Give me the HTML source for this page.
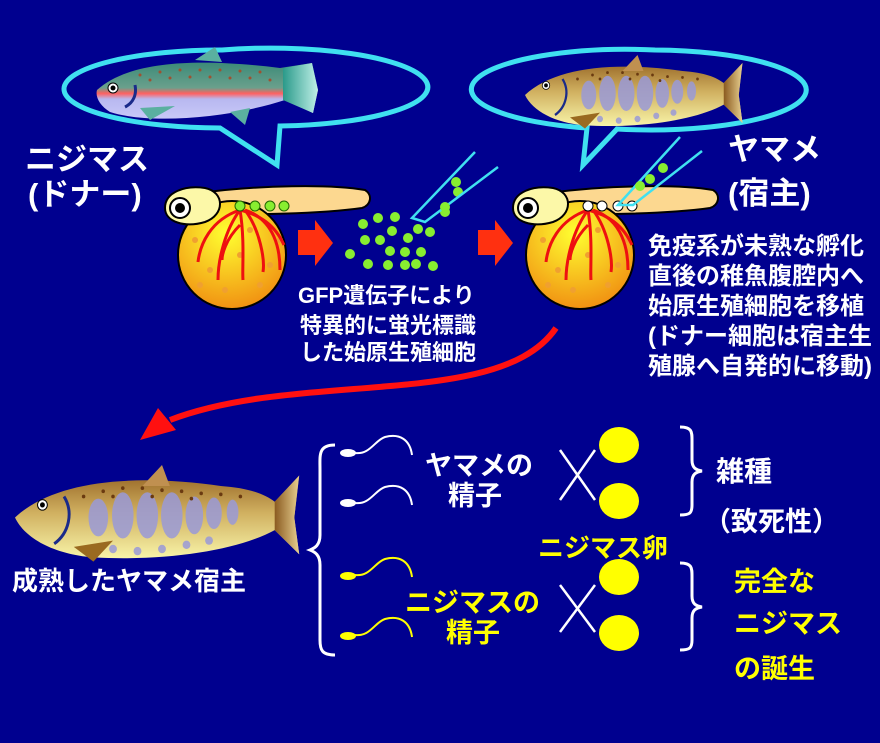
<!DOCTYPE html>
<html><head><meta charset="utf-8"><style>
html,body{margin:0;padding:0;background:#00008f;}
svg{display:block}
text{font-family:"Liberation Sans","Noto Sans CJK JP",sans-serif;font-weight:bold;}
</style></head><body>
<svg width="880" height="743" viewBox="0 0 880 743" xmlns="http://www.w3.org/2000/svg">
<defs>
<radialGradient id="yolk" cx="0.45" cy="0.3" r="0.75"><stop offset="0" stop-color="#ffff30"/><stop offset="1" stop-color="#f08a10"/></radialGradient>
<linearGradient id="rt" x1="0" y1="0" x2="0" y2="1"><stop offset="0" stop-color="#3c8a78"/><stop offset="0.45" stop-color="#6aa08c"/><stop offset="0.55" stop-color="#ff6060"/><stop offset="0.65" stop-color="#b8b8f0"/><stop offset="1" stop-color="#c8c8f8"/></linearGradient>
<linearGradient id="ym" x1="0" y1="0" x2="0" y2="1"><stop offset="0" stop-color="#9a6a28"/><stop offset="0.45" stop-color="#d0b060"/><stop offset="1" stop-color="#f8f4a8"/></linearGradient>
<linearGradient id="tail" x1="0" y1="0" x2="1" y2="0"><stop offset="0" stop-color="#2a9a8a"/><stop offset="1" stop-color="#c0f0e8"/></linearGradient>
<linearGradient id="tailb" x1="0" y1="0" x2="1" y2="0"><stop offset="0" stop-color="#8a5a20"/><stop offset="1" stop-color="#e8d090"/></linearGradient>
<g id="larva">
 <path d="M200,193 C260,185 330,184 365,190 C373,195 371,205 362,208 C320,214 250,215 200,214 Z" fill="#fcd890" stroke="#000" stroke-width="2"/>
 <circle cx="232" cy="255" r="54" fill="url(#yolk)" stroke="#000" stroke-width="2"/>
 <g fill="#f0a030"><circle cx="195" cy="240" r="3"/><circle cx="210" cy="270" r="3"/><circle cx="250" cy="230" r="3"/><circle cx="270" cy="265" r="3"/><circle cx="225" cy="290" r="3"/><circle cx="260" cy="285" r="3"/><circle cx="200" cy="285" r="3"/><circle cx="240" cy="255" r="3"/><circle cx="280" cy="240" r="3"/></g>
 <g stroke="#ee1010" stroke-width="3" fill="none"><path d="M240,210 C210,220 200,245 198,262"/><path d="M240,210 C225,230 218,260 218,280"/><path d="M240,210 C245,240 242,270 243,280"/><path d="M245,210 C260,230 265,260 263,272"/><path d="M245,210 C275,220 280,250 280,270"/><path d="M240,210 C260,215 275,225 284,245"/><path d="M240,225 C225,240 222,255 222,260"/></g>
 <ellipse cx="200" cy="212" rx="10" ry="6" fill="#ee1010"/>
 <path d="M165,208 C165,192 185,185 205,188 C225,192 225,215 205,222 C185,228 165,222 165,208 Z" fill="#fcf8a8" stroke="#000" stroke-width="2"/>
 <circle cx="180" cy="208" r="10" fill="#fff" stroke="#000" stroke-width="2"/><circle cx="180" cy="208" r="5" fill="#000"/>
</g>
<g id="fishY">
 <path d="M0,50 C40,15 120,8 210,20 C240,22 255,28 265,35 L290,10 L285,50 L290,85 L265,62 C230,80 160,92 80,88 C40,85 10,70 0,50 Z" fill="url(#ym)"/>
 <path d="M265,35 L290,10 L285,50 L290,85 L265,62 Z" fill="url(#tailb)"/>
 <path d="M130,20 L150,0 L158,20 Z" fill="#c09050"/>
 <path d="M60,78 L100,72 L80,92 Z" fill="#9a6a20"/>
 <g fill="#9a9ad8" opacity="0.85"><ellipse cx="85" cy="50" rx="10" ry="18"/><ellipse cx="110" cy="48" rx="11" ry="22"/><ellipse cx="135" cy="48" rx="11" ry="22"/><ellipse cx="160" cy="48" rx="11" ry="22"/><ellipse cx="183" cy="48" rx="9" ry="18"/><ellipse cx="203" cy="46" rx="8" ry="15"/><ellipse cx="222" cy="45" rx="6" ry="12"/><circle cx="100" cy="80" r="4"/><circle cx="125" cy="82" r="4"/><circle cx="150" cy="80" r="4"/><circle cx="175" cy="76" r="4"/><circle cx="198" cy="72" r="4"/></g>
 <g fill="#6a3a10"><circle cx="70" cy="30" r="1.8"/><circle cx="90" cy="25" r="1.8"/><circle cx="110" cy="22" r="1.8"/><circle cx="130" cy="22" r="1.8"/><circle cx="150" cy="24" r="1.8"/><circle cx="170" cy="25" r="1.8"/><circle cx="190" cy="27" r="1.8"/><circle cx="210" cy="28" r="1.8"/><circle cx="230" cy="30" r="1.8"/><circle cx="100" cy="30" r="1.8"/><circle cx="140" cy="30" r="1.8"/><circle cx="180" cy="32" r="1.8"/></g>
 <path d="M50,30 C60,45 55,65 40,75" stroke="#1a2a8a" stroke-width="3" fill="none"/>
 <circle cx="28" cy="38" r="5" fill="#fff" stroke="#000"/><circle cx="28" cy="38" r="2.5" fill="#000"/>
</g>
</defs>

<!-- bubbles -->
<path d="M222,50 A157,39 0 1 1 280,126 L277,165 L220,128 A157,39 0 0 1 222,50 Z" fill="none" stroke="#40e0f0" stroke-width="5"/>
<path d="M655,50 A155,40 0 1 1 617,129 L583,165 L587,128 A155,40 0 0 1 655,50 Z" fill="none" stroke="#40e0f0" stroke-width="5"/>

<!-- rainbow trout -->
<g>
 <path d="M97,90 C130,60 200,58 280,68 L312,63 L318,90 L313,113 L285,100 C230,118 150,125 110,112 C100,106 95,97 97,90 Z" fill="url(#rt)"/>
 <path d="M283,68 L312,63 L318,90 L313,113 L283,100 Z" fill="url(#tail)"/>
 <path d="M195,60 L215,47 L222,62 Z" fill="#5ab0a0"/>
 <path d="M140,108 L175,106 L150,120 Z" fill="#5ab0a0"/>
 <path d="M230,112 L250,108 L245,125 Z" fill="#5ab0a0"/>
 <g fill="#a05030"><circle cx="140" cy="75" r="1.5"/><circle cx="160" cy="72" r="1.5"/><circle cx="180" cy="70" r="1.5"/><circle cx="200" cy="70" r="1.5"/><circle cx="220" cy="70" r="1.5"/><circle cx="240" cy="71" r="1.5"/><circle cx="260" cy="72" r="1.5"/><circle cx="150" cy="80" r="1.5"/><circle cx="170" cy="78" r="1.5"/><circle cx="190" cy="77" r="1.5"/><circle cx="210" cy="77" r="1.5"/><circle cx="230" cy="78" r="1.5"/><circle cx="250" cy="78" r="1.5"/><circle cx="270" cy="80" r="1.5"/></g>
 <path d="M135,85 C137,95 133,103 125,107" stroke="#1a2a8a" stroke-width="3" fill="none"/>
 <circle cx="113" cy="88" r="5" fill="#fff" stroke="#000"/><circle cx="113" cy="88" r="2.5" fill="#000"/>
</g>

<use href="#fishY" transform="translate(525,55) scale(0.75,0.8)"/>
<use href="#fishY" transform="translate(15,465) scale(0.98,1.05)"/>

<!-- titles -->
<text x="25" y="170" font-size="31" fill="#fff">ニジマス</text>
<text x="28" y="205" font-size="31" fill="#fff">(ドナー)</text>
<text x="728" y="160" font-size="31" fill="#fff">ヤマメ</text>
<text x="728" y="204" font-size="31" fill="#fff">(宿主)</text>

<use href="#larva"/>
<g fill="#88ee30" stroke="#226600" stroke-width="1"><circle cx="240" cy="206" r="5"/><circle cx="255" cy="206" r="5"/><circle cx="270" cy="206" r="5"/><circle cx="284" cy="206" r="5"/></g>
<use href="#larva" transform="translate(348,0)"/>
<g fill="#fff" stroke="#000" stroke-width="1"><circle cx="588" cy="206" r="5"/><circle cx="602" cy="206" r="5"/><circle cx="618" cy="206" r="5"/><circle cx="632" cy="206" r="5"/></g>

<!-- red arrows -->
<polygon points="298,230 315,230 315,220 333,243 315,266 315,255 298,255" fill="#ff3010"/>
<polygon points="478,230 495,230 495,220 513,243 495,266 495,255 478,255" fill="#ff3010"/>

<!-- green cells -->
<g fill="#88ee30"><circle cx="378" cy="218" r="5"/><circle cx="395" cy="217" r="5"/><circle cx="363" cy="224" r="5"/><circle cx="392" cy="231" r="5"/><circle cx="418" cy="229" r="5"/><circle cx="365" cy="240" r="5"/><circle cx="380" cy="240" r="5"/><circle cx="408" cy="238" r="5"/><circle cx="430" cy="232" r="5"/><circle cx="390" cy="251" r="5"/><circle cx="405" cy="252" r="5"/><circle cx="421" cy="252" r="5"/><circle cx="350" cy="254" r="5"/><circle cx="368" cy="264" r="5"/><circle cx="388" cy="265" r="5"/><circle cx="405" cy="265" r="5"/><circle cx="416" cy="264" r="5"/><circle cx="433" cy="266" r="5"/><circle cx="445" cy="212" r="5"/><circle cx="458" cy="192" r="5"/><circle cx="456" cy="182" r="5"/></g>
<g stroke="#40e0f0" stroke-width="2.5" fill="none"><path d="M475,152 L412,218 L425,222 L498,167"/><path d="M680,137 L618,205 L633,205 L702,151"/></g>
<g fill="#88ee30"><circle cx="445" cy="207" r="5"/><circle cx="640" cy="186" r="5"/><circle cx="650" cy="179" r="5"/><circle cx="663" cy="168" r="5"/></g>

<!-- texts -->
<g font-size="22" fill="#fff">
<text x="298" y="303" font-family="Liberation Serif,Noto Serif CJK SC,serif">GFP遺伝子により</text>
<text x="300" y="333">特異的に蛍光標識</text>
<text x="300" y="360">した始原生殖細胞</text>
</g>
<g font-size="24" fill="#fff">
<text x="648" y="254">免疫系が未熟な孵化</text>
<text x="648" y="284">直後の稚魚腹腔内へ</text>
<text x="648" y="314">始原生殖細胞を移植</text>
<text x="648" y="344">(ドナー細胞は宿主生</text>
<text x="648" y="374">殖腺へ自発的に移動)</text>
</g>

<!-- curved red arrow -->
<path d="M556,328 C500,410 300,370 170,420" stroke="#ff1010" stroke-width="6" fill="none"/>
<polygon points="140,440 158,408 176,430" fill="#ff1010"/>

<text x="12" y="590" font-size="26" fill="#fff">成熟したヤマメ宿主</text>

<!-- big brace -->
<path d="M335,445 C318,445 320,455 320,470 L320,535 C320,545 315,548 310,550 C315,552 320,555 320,565 L320,640 C320,650 322,655 335,655" stroke="#fff" stroke-width="3" fill="none"/>

<!-- sperm -->
<g stroke-width="2" fill="none"><path d="M355,453 C370,455 375,440 385,437 C400,433 410,440 412,455" stroke="#fff"/><path d="M355,503 C370,505 375,490 385,487 C400,483 410,490 412,505" stroke="#fff"/><path d="M355,575 C370,577 375,562 385,559 C400,555 410,562 412,577" stroke="#ff0"/><path d="M355,635 C370,637 375,622 385,619 C400,615 410,622 412,637" stroke="#ff0"/></g>
<ellipse cx="348" cy="453" rx="8" ry="4" fill="#fff"/><ellipse cx="348" cy="503" rx="8" ry="4" fill="#fff"/>
<ellipse cx="348" cy="576" rx="8" ry="4" fill="#ff0"/><ellipse cx="348" cy="636" rx="8" ry="4" fill="#ff0"/>

<text x="425" y="475" font-size="27" fill="#fff">ヤマメの</text>
<text x="448" y="505" font-size="27" fill="#fff">精子</text>
<text x="405" y="612" font-size="27" fill="#ff0">ニジマスの</text>
<text x="446" y="642" font-size="27" fill="#ff0">精子</text>

<g stroke="#fff" stroke-width="2.5"><line x1="560" y1="450" x2="595" y2="500"/><line x1="595" y1="450" x2="560" y2="500"/><line x1="560" y1="585" x2="595" y2="632"/><line x1="595" y1="585" x2="560" y2="632"/></g>

<g fill="#ff0"><ellipse cx="619" cy="445" rx="20" ry="18"/><ellipse cx="619" cy="501" rx="20" ry="18"/><ellipse cx="619" cy="577" rx="20" ry="18"/><ellipse cx="619" cy="633" rx="20" ry="18"/></g>

<g stroke="#fff" stroke-width="3" fill="none"><path d="M680,427 C692,427 692,432 692,440 L692,460 C692,468 696,470 702,471 C696,472 692,474 692,482 L692,505 C692,513 690,515 680,515"/><path d="M680,563 C692,563 692,568 692,576 L692,596 C692,604 696,606 702,607 C696,608 692,610 692,618 L692,640 C692,648 690,650 680,650"/></g>

<text x="716" y="481" font-size="28" fill="#fff">雑種</text>
<text x="704" y="531" font-size="27" fill="#fff">（致死性）</text>
<text x="538" y="557" font-size="26" fill="#ff0">ニジマス卵</text>
<text x="734" y="591" font-size="27" fill="#ff0">完全な</text>
<text x="734" y="633" font-size="27" fill="#ff0">ニジマス</text>
<text x="734" y="678" font-size="27" fill="#ff0">の誕生</text>
</svg>
</body></html>
